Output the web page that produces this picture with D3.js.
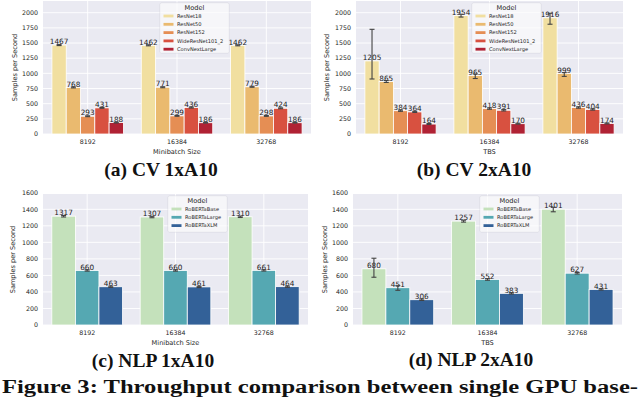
<!DOCTYPE html>
<html>
<head>
<meta charset="utf-8">
<script src="https://cdn.jsdelivr.net/npm/d3@7"></script>
<style>
html,body{margin:0;padding:0;background:#fff;}
svg{display:block;}
</style>
</head>
<body>
<svg id="chart" width="640" height="397"></svg>
<script>
// ---------- DATA ----------
const batchSizes = ["8192", "16384", "32768"];
const cvModels = ["ResNet18", "ResNet50", "ResNet152", "WideResNet101_2", "ConvNextLarge"];
const nlpModels = ["RoBERTaBase", "RoBERTaLarge", "RoBERTaXLM"];

const cvTicks = [0, 250, 500, 750, 1000, 1250, 1500, 1750, 2000];
const nlpTicks = [0, 200, 400, 600, 800, 1000, 1200, 1400, 1600];

// (a) CV 1xA10
const cv1Values = [[1467, 768, 293, 431, 188], [1462, 771, 299, 436, 186], [1462, 779, 298, 424, 186]];
const cv1Low    = [[1458, 760, 286, 424, 182], [1454, 763, 292, 428, 180], [1454, 771, 291, 417, 180]];
const cv1High   = [[1474, 776, 300, 438, 194], [1470, 779, 306, 444, 192], [1470, 787, 305, 431, 192]];

// (b) CV 2xA10
const cv2Values = [[1205, 865, 384, 364, 164], [1954, 965, 418, 391, 170], [1916, 999, 436, 404, 174]];
const cv2Low    = [[907, 850, 374, 355, 157], [1928, 915, 408, 380, 163], [1810, 950, 426, 394, 167]];
const cv2High   = [[1726, 882, 394, 373, 172], [1975, 990, 430, 402, 178], [1990, 1012, 446, 414, 182]];

// (c) NLP 1xA10
const nlp1Values = [[1317, 660, 463], [1307, 660, 461], [1310, 661, 464]];
const nlp1Low    = [[1307, 652, 455], [1298, 652, 453], [1301, 653, 456]];
const nlp1High   = [[1325, 668, 470], [1315, 668, 468], [1318, 669, 471]];

// (d) NLP 2xA10
const nlp2Values = [[680, 451, 306], [1257, 552, 383], [1401, 627, 431]];
const nlp2Low    = [[578, 420, 297], [1245, 542, 375], [1370, 617, 423]];
const nlp2High   = [[808, 476, 315], [1268, 561, 391], [1425, 636, 439]];

// ---------- HELPERS ----------
const svg = d3.select("#chart");
const SANS = "DejaVu Sans, sans-serif";
const SERIF = "Liberation Serif, DejaVu Serif, serif";
const TXT = "#262626";

function desat(c, p) { const h = d3.hsl(c); h.s *= p; return h.formatHex(); }
const cvColors = cvModels.map((m, i) => desat(d3.interpolateYlOrRd((i + 1) / 6), 0.75));
const nlpColors = nlpModels.map((m, i) => desat(d3.interpolateYlGnBu((i + 1) / 4), 0.75));

function panel(o) {
  const g = svg.append("g");
  const y = d3.scaleLinear().domain([0, o.ymax]).range([o.y0, o.top]);
  const x = d3.scaleBand().domain(batchSizes).range([o.left, o.right]).padding(0);
  const xi = d3.scaleBand().domain(o.models).range([x.bandwidth() * 0.1, x.bandwidth() * 0.9]).padding(0);

  g.append("rect").attr("x", o.left).attr("y", o.top).attr("width", o.right - o.left)
    .attr("height", o.y0 - o.top).attr("fill", "#eaeaf2");

  // grid
  const inTicks = o.ticks.filter(t => t <= o.ymax);
  g.selectAll(".hg").data(inTicks).join("line")
    .attr("x1", o.left).attr("x2", o.right)
    .attr("y1", d => y(d)).attr("y2", d => y(d))
    .attr("stroke", "#fff").attr("stroke-width", 0.9);
  g.selectAll(".vg").data(batchSizes).join("line")
    .attr("x1", d => x(d) + x.bandwidth() / 2).attr("x2", d => x(d) + x.bandwidth() / 2)
    .attr("y1", o.top).attr("y2", o.y0)
    .attr("stroke", "#fff").attr("stroke-width", 0.9);

  // y tick labels
  g.selectAll(".yt").data(o.ticks).join("text")
    .attr("x", o.left - 5).attr("y", d => y(d)).attr("dy", "0.35em")
    .attr("text-anchor", "end").attr("font-family", SANS).attr("font-size", 6.3)
    .attr("fill", TXT).text(d => d);

  // x tick labels
  g.selectAll(".xt").data(batchSizes).join("text")
    .attr("x", d => x(d) + x.bandwidth() / 2).attr("y", o.y0 + 10)
    .attr("text-anchor", "middle").attr("font-family", SANS).attr("font-size", 6.3)
    .attr("fill", TXT).text(d => d);

  // axis titles
  g.append("text").attr("x", (o.left + o.right) / 2).attr("y", o.y0 + 20)
    .attr("text-anchor", "middle").attr("font-family", SANS).attr("font-size", 6.6)
    .attr("fill", TXT).text(o.xlabel);
  g.append("text")
    .attr("transform", `translate(${o.ylabX},${(o.top + o.y0) / 2}) rotate(-90)`)
    .attr("text-anchor", "middle").attr("dy", "0.35em").attr("font-family", SANS).attr("font-size", 6.6)
    .attr("fill", TXT).text("Samples per Second");

  // bars
  const items = [];
  batchSizes.forEach((b, bi) => o.models.forEach((m, mi) => items.push({
    b, m, mi, v: o.values[bi][mi], lo: o.low[bi][mi], hi: o.high[bi][mi]
  })));
  const cx = d => x(d.b) + xi(d.m) + xi.bandwidth() / 2;
  g.selectAll(".bar").data(items).join("rect")
    .attr("x", d => x(d.b) + xi(d.m)).attr("width", xi.bandwidth())
    .attr("y", d => y(d.v)).attr("height", d => y(0) - y(d.v))
    .attr("fill", d => o.colors[d.mi]).attr("stroke", "#fff").attr("stroke-width", 0.8);

  // value labels
  g.selectAll(".vl").data(items).join("text")
    .attr("x", cx).attr("y", d => y(d.v) - 0.8)
    .attr("text-anchor", "middle").attr("font-family", SANS).attr("font-size", 7.3)
    .attr("fill", "#222").text(d => d.v);

  // error bars
  const eb = g.selectAll(".eb").data(items).join("g").attr("stroke", "#424242").attr("stroke-width", 1.1);
  eb.append("line").attr("x1", cx).attr("x2", cx).attr("y1", d => y(d.lo)).attr("y2", d => y(d.hi));
  eb.append("line").attr("x1", d => cx(d) - 2.5).attr("x2", d => cx(d) + 2.5).attr("y1", d => y(d.lo)).attr("y2", d => y(d.lo));
  eb.append("line").attr("x1", d => cx(d) - 2.5).attr("x2", d => cx(d) + 2.5).attr("y1", d => y(d.hi)).attr("y2", d => y(d.hi));

  // legend
  const L = o.legend;
  const lg = g.append("g");
  lg.append("rect").attr("x", L.x).attr("y", L.y).attr("width", L.w).attr("height", L.h)
    .attr("rx", 1.5).attr("fill", "#eaeaf2").attr("fill-opacity", 0.2)
    .attr("stroke", "#d0d0d8").attr("stroke-width", 0.6);
  lg.append("rect").attr("x", L.x).attr("y", L.y).attr("width", L.w).attr("height", L.h)
    .attr("rx", 1.5).attr("fill", "#fff").attr("fill-opacity", 0.55);
  lg.append("text").attr("x", L.x + L.w / 2).attr("y", L.y + 4.6).attr("dy", "0.35em")
    .attr("text-anchor", "middle").attr("font-family", SANS).attr("font-size", 6.6)
    .attr("fill", TXT).text("Model");
  o.models.forEach((m, i) => {
    const yy = L.y + 13 + i * 8.3;
    lg.append("rect").attr("x", L.x + 3.5).attr("y", yy - 1.4).attr("width", 10).attr("height", 2.8)
      .attr("fill", o.colors[i]);
    lg.append("text").attr("x", L.x + 17).attr("y", yy).attr("dy", "0.35em")
      .attr("font-family", SANS).attr("font-size", 5.1).attr("fill", TXT).text(m);
  });

  // caption
  svg.append("text").attr("x", o.capX).attr("y", o.capY).attr("text-anchor", "middle")
    .attr("font-family", SERIF).attr("font-weight", "bold").attr("font-size", 19.5)
    .attr("fill", "#111").text(o.caption);
}

const cvYmax = 133 / (121.3 / 2000);
const nlpYmax = 131 / (115.7 / 1400);

panel({ left: 43, right: 311, top: 1, y0: 134, ymax: cvYmax, ticks: cvTicks, models: cvModels, colors: cvColors,
  values: cv1Values, low: cv1Low, high: cv1High, xlabel: "Minibatch Size", ylabX: 15,
  legend: { x: 160, y: 3, w: 69, h: 50 }, caption: "(a) CV 1xA10", capX: 161, capY: 176 });
panel({ left: 356, right: 623, top: 1, y0: 134, ymax: cvYmax, ticks: cvTicks, models: cvModels, colors: cvColors,
  values: cv2Values, low: cv2Low, high: cv2High, xlabel: "TBS", ylabX: 327,
  legend: { x: 472, y: 3, w: 69, h: 50 }, caption: "(b) CV 2xA10", capX: 474, capY: 176 });
panel({ left: 43, right: 308, top: 194, y0: 325, ymax: nlpYmax, ticks: nlpTicks, models: nlpModels, colors: nlpColors,
  values: nlp1Values, low: nlp1Low, high: nlp1High, xlabel: "Minibatch Size", ylabX: 13,
  legend: { x: 168, y: 196, w: 59, h: 36 }, caption: "(c) NLP 1xA10", capX: 153, capY: 366.5 });
panel({ left: 353, right: 622, top: 194, y0: 325, ymax: nlpYmax, ticks: nlpTicks, models: nlpModels, colors: nlpColors,
  values: nlp2Values, low: nlp2Low, high: nlp2High, xlabel: "TBS", ylabX: 325,
  legend: { x: 480, y: 196, w: 59, h: 36 }, caption: "(d) NLP 2xA10", capX: 471, capY: 366 });

svg.append("text").attr("x", 2).attr("y", 393)
  .attr("font-family", SERIF).attr("font-weight", "bold").attr("font-size", 18.5)
  .attr("textLength", 636).attr("lengthAdjust", "spacingAndGlyphs")
  .attr("fill", "#111").text("Figure 3: Throughput comparison between single GPU base-");
</script>
</body>
</html>
